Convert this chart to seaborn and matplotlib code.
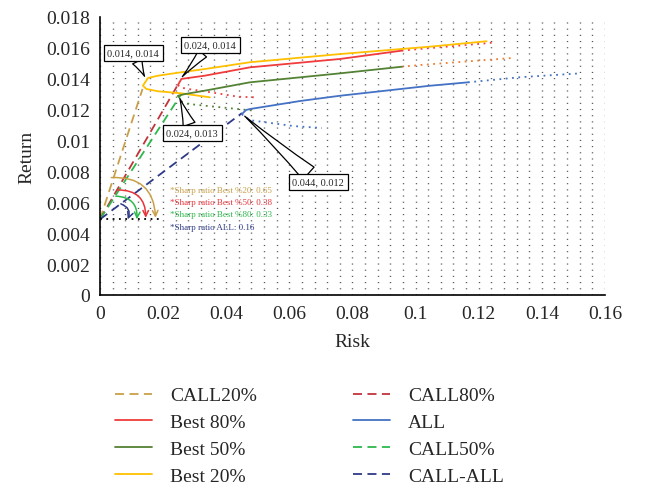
import seaborn as sns
import matplotlib.pyplot as plt
from matplotlib.ticker import MultipleLocator, FuncFormatter

# efficient frontiers (risk, return)
best20_risk = [0.0348, 0.0257, 0.0184, 0.0147, 0.0136, 0.0152, 0.0184, 0.0257, 0.0332, 0.0475, 0.0760, 0.1046, 0.1225]
best20_ret = [0.01280, 0.01306, 0.01319, 0.01334, 0.01355, 0.01405, 0.01420, 0.01442, 0.01463, 0.01507, 0.01560, 0.01608, 0.01643]

best80_risk = [0.0247, 0.0258, 0.0332, 0.0475, 0.0760, 0.0956]
best80_ret = [0.01360, 0.01399, 0.01420, 0.01474, 0.01528, 0.01582]
best80_ext_risk = [0.0956, 0.1014, 0.1225, 0.1252]
best80_ext_ret = [0.01582, 0.01593, 0.01630, 0.01636]
best80_low_risk = [0.0247, 0.0253, 0.0279, 0.0352, 0.0437, 0.0490]
best80_low_ret = [0.01360, 0.01345, 0.01334, 0.01312, 0.01284, 0.01280]

best50_risk = [0.0247, 0.0269, 0.0332, 0.0475, 0.0760, 0.0956]
best50_ret = [0.01290, 0.01301, 0.01323, 0.01377, 0.01435, 0.01478]
best50_ext_risk = [0.0956, 0.1014, 0.1309]
best50_ext_ret = [0.01478, 0.01489, 0.01535]
best50_low_risk = [0.0247, 0.0260, 0.0279, 0.0383, 0.0491]
best50_low_ret = [0.01290, 0.01250, 0.01237, 0.01215, 0.01193]

all_risk = [0.0450, 0.0463, 0.0475, 0.0634, 0.0760, 0.1046, 0.1166]
all_ret = [0.01172, 0.01198, 0.01204, 0.01256, 0.01290, 0.01355, 0.01377]
all_ext_risk = [0.1166, 0.1331, 0.1521]
all_ext_ret = [0.01377, 0.01410, 0.01435]
all_low_risk = [0.0450, 0.0456, 0.0482, 0.0529, 0.0612, 0.0703]
all_low_ret = [0.01172, 0.01153, 0.01130, 0.01117, 0.01094, 0.01081]

# capital allocation lines from the risk-free return
rf = 0.0049
call20 = [0.01347, 0.01334]
call80 = [0.02449, 0.01355]
call50 = [0.02576, 0.01301]
call_all = [0.04499, 0.01178]
rf_line_end = 0.0197

# angle arrows (start, end)
arcs = {
    '#C9A04A': ((0.0036, 0.0076), (0.0176, 0.0050)),
    '#E8333A': ((0.0056, 0.0068), (0.0145, 0.0050)),
    '#2DB84C': ((0.0050, 0.0064), (0.0117, 0.0049)),
    '#2E3A87': ((0.0066, 0.0059), (0.0088, 0.0049)),
}
sharp_texts = ['*Sharp ratio Best %20: 0.65', '*Sharp ratio Best %50: 0.38',
               '*Sharp ratio Best %80: 0.33', '*Sharp ratio ALL: 0.16']
sharp_colors = ['#C9A04A', '#E8333A', '#2DB84C', '#2E3A87']
sharp_y = [0.0068, 0.00602, 0.00524, 0.0044]

callouts = [('0.014, 0.014', (0.0145, 0.0140), (0.0105, 0.01567), 1.0),
            ('0.024, 0.014', (0.0255, 0.0140), (0.0349, 0.01619), 1.0),
            ('0.024, 0.013', (0.0250, 0.0129), (0.0292, 0.01049), 1.2),
            ('0.044, 0.012', (0.0452, 0.0117), (0.0691, 0.00732), 1.6)]

sns.set_style('white')
plt.rcParams['font.family'] = ['Liberation Serif', 'DejaVu Serif']

fig = plt.figure(figsize=(6.51, 4.85), dpi=100)
ax = fig.add_axes([0.1536, 0.3897, 0.7757, 0.5732])

dash = (0, (5, 3))
dot = (0, (1, 2.5))
handles = {}

def line(x, y, color, ls='-', label=None, lw=1.3):
    sns.lineplot(x=x, y=y, sort=False, estimator=None, color=color, linestyle=ls,
                 lw=lw, ax=ax, legend=False)
    if label:
        handles[label] = ax.lines[-1]

line([0, call20[0]], [rf, call20[1]], '#C9A04A', dash, 'CALL20%')
line([0, call80[0]], [rf, call80[1]], '#C0343A', dash, 'CALL80%')
line([0, call50[0]], [rf, call50[1]], '#2DB84C', dash, 'CALL50%')
line([0, call_all[0]], [rf, call_all[1]], '#2E3A87', dash, 'CALL-ALL')
line([0, rf_line_end], [rf, rf], 'black', dot)

line(best80_ext_risk, best80_ext_ret, '#F03C3C', dot)
line(best80_low_risk, best80_low_ret, '#F03C3C', dot)
line(best50_ext_risk, best50_ext_ret, '#ED7D31', dot)
line(best50_low_risk, best50_low_ret, '#548235', dot)
line(all_ext_risk, all_ext_ret, '#4472C4', dot)
line(all_low_risk, all_low_ret, '#4472C4', dot)

line(best20_risk, best20_ret, '#FFC000', '-', 'Best 20%')
line(best80_risk, best80_ret, '#F03C3C', '-', 'Best 80%')
line(best50_risk, best50_ret, '#548235', '-', 'Best 50%')
line(all_risk, all_ret, '#4472C4', '-', 'ALL')

for c, (s, e) in arcs.items():
    ax.annotate('', xy=e, xytext=s,
                arrowprops=dict(arrowstyle='->', color=c, lw=1.1,
                                connectionstyle='arc3,rad=-0.5', shrinkA=0, shrinkB=0))

for t, c, y in zip(sharp_texts, sharp_colors, sharp_y):
    ax.text(0.0222, y, t, color=c, fontsize=6.5, va='center', ha='left')

for txt, xy, xyt, tw in callouts:
    ax.annotate(txt, xy=xy, xytext=xyt, fontsize=7.5, ha='center', va='center', zorder=5,
                bbox=dict(boxstyle='square,pad=0.35', fc='white', ec='black', lw=0.9),
                arrowprops=dict(arrowstyle='wedge,tail_width=%s,shrink_factor=0.4' % tw,
                                fc='white', ec='black', lw=0.9, shrinkA=0))

ax.set_xlim(0, 0.16)
ax.set_ylim(0, 0.018)
ax.xaxis.set_major_locator(MultipleLocator(0.02))
ax.yaxis.set_major_locator(MultipleLocator(0.002))
ax.xaxis.set_minor_locator(MultipleLocator(0.004))
fmt = FuncFormatter(lambda v, p: '%g' % round(v, 4))
ax.xaxis.set_major_formatter(fmt)
ax.yaxis.set_major_formatter(fmt)
ax.grid(which='both', axis='x', color='#555555', lw=1.0, linestyle=(0, (0.8, 3.65)))
ax.set_axisbelow(True)
ax.tick_params(which='both', length=0, labelsize=14, pad=7)
for s in ['top', 'right']:
    ax.spines[s].set_visible(False)
for s in ['left', 'bottom']:
    ax.spines[s].set_color('black')
    ax.spines[s].set_linewidth(1.2)
ax.set_xlabel('Risk', fontsize=14, labelpad=8)
ax.set_ylabel('Return', fontsize=14, labelpad=8)

order = ['CALL20%', 'Best 80%', 'Best 50%', 'Best 20%', 'CALL80%', 'ALL', 'CALL50%', 'CALL-ALL']
fig.legend([handles[k] for k in order], order, loc='upper left', ncol=2,
           bbox_to_anchor=(0.1767, 0.2005), frameon=False, fontsize=14,
           borderpad=0, borderaxespad=0, handlelength=1.9, handletextpad=0.95,
           columnspacing=4.9, labelspacing=0.47)

fig.savefig('out.png', dpi=100)
